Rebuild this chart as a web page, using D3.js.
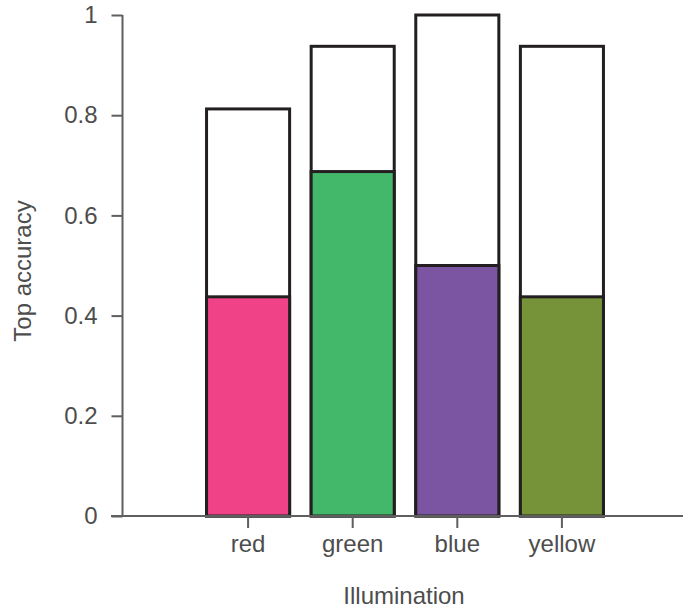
<!DOCTYPE html>
<html>
<head>
<meta charset="utf-8">
<script src="https://cdn.jsdelivr.net/npm/d3@7/dist/d3.min.js"></script>
<style>
  html, body { margin: 0; padding: 0; background: #fff; }
  svg { display: block; }
  text { font-family: "Liberation Sans", Arial, Helvetica, sans-serif; fill: #4d4d4d; }
</style>
</head>
<body>
<svg id="chart" width="683" height="610"></svg>
<script>
// Illumination conditions and the accuracy measured under each
const categories = ["red", "green", "blue", "yellow"];
const topAccuracy = [0.8125, 0.9375, 1.0, 0.9375];   // open (outline) bars
const top1Accuracy = [0.4375, 0.6875, 0.5, 0.4375];  // filled bars
const barColors = ["#ef4287", "#43b86b", "#7b55a2", "#779339"];
const yTicks = [0, 0.2, 0.4, 0.6, 0.8, 1];
const yTickLabels = ["0", "0.2", "0.4", "0.6", "0.8", "1"];

const svg = d3.select("#chart");
const plotLeft = 122.5, plotRight = 683, plotTop = 15, plotBottom = 516;
const fontSize = 24;

const x = d3.scaleBand()
  .domain(categories)
  .range([126, 684])
  .paddingInner(0.206)
  .paddingOuter(0.77);

const y = d3.scaleLinear().domain([0, 1]).range([plotBottom, plotTop]);

const axisColor = "#5f5f5f";

// bars: outline for top accuracy, coloured fill for top-1
const g = svg.append("g");
categories.forEach((c, i) => {
  g.append("rect")
    .attr("x", x(c))
    .attr("width", x.bandwidth())
    .attr("y", y(topAccuracy[i]))
    .attr("height", y(0) - y(topAccuracy[i]))
    .attr("fill", "#fff")
    .attr("stroke", "#231f20")
    .attr("stroke-width", 3);
  g.append("rect")
    .attr("x", x(c))
    .attr("width", x.bandwidth())
    .attr("y", y(top1Accuracy[i]))
    .attr("height", y(0) - y(top1Accuracy[i]))
    .attr("fill", barColors[i])
    .attr("stroke", "#231f20")
    .attr("stroke-width", 3);
});

// y axis
const yAxis = d3.axisLeft(y)
  .tickValues(yTicks)
  .tickFormat((d, i) => yTickLabels[i])
  .tickSize(11)
  .tickPadding(14);
const ya = svg.append("g").attr("transform", `translate(${plotLeft},0)`).call(yAxis);
ya.select(".domain").attr("d", `M0,${plotTop}V${plotBottom}`).attr("stroke", axisColor).attr("stroke-width", 2);
ya.selectAll(".tick line").attr("stroke", axisColor).attr("stroke-width", 2);
ya.selectAll(".tick text").attr("font-size", fontSize).attr("font-family", null).attr("fill", "#4d4d4d");

// x axis
const xAxis = d3.axisBottom(x).tickSize(12).tickPadding(7);
const xa = svg.append("g").attr("transform", `translate(0,${plotBottom})`).call(xAxis);
xa.select(".domain").attr("d", `M111,0H${plotRight}`).attr("stroke", axisColor).attr("stroke-width", 2);
xa.selectAll(".tick line").attr("stroke", axisColor).attr("stroke-width", 2);
xa.selectAll(".tick text").attr("font-size", fontSize).attr("font-family", null).attr("fill", "#4d4d4d");

// axis titles
svg.append("text")
  .attr("x", 404)
  .attr("y", 604)
  .attr("text-anchor", "middle")
  .attr("font-size", fontSize)
  .text("Illumination");

svg.append("text")
  .attr("transform", "translate(31,271) rotate(-90)")
  .attr("text-anchor", "middle")
  .attr("font-size", fontSize)
  .text("Top accuracy");
</script>
</body>
</html>
